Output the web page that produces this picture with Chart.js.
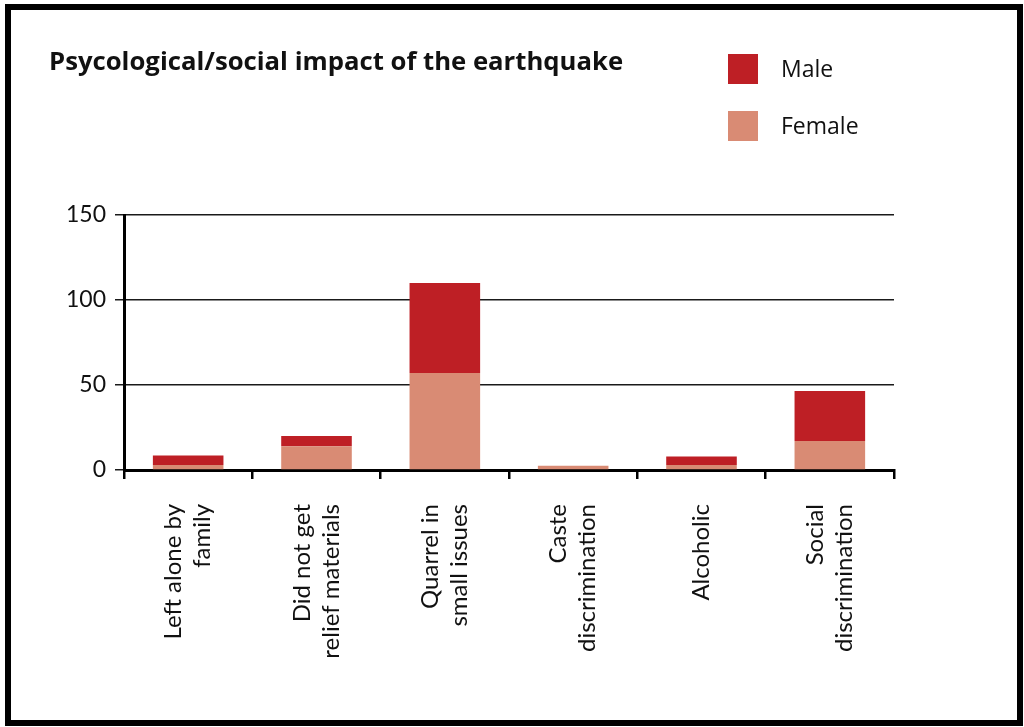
<!DOCTYPE html>
<html>
<head>
<meta charset="utf-8">
<script src="https://cdn.jsdelivr.net/npm/chart.js@4/dist/chart.umd.min.js"></script>
<style>
  html, body { margin: 0; padding: 0; background: #fff; }
  #wrap { position: relative; width: 1024px; height: 727px; overflow: hidden; }
  #frame {
    position: absolute; left: 5px; top: 4px; width: 1018px; height: 722px;
    box-sizing: border-box; border: 6px solid #000; pointer-events: none;
  }
  canvas { position: absolute; left: 0; top: 0; }
</style>
</head>
<body>
<div id="wrap">
  <canvas id="chart" width="1024" height="727"></canvas>
  <div id="frame"></div>
</div>
<script>
// Survey responses: psychological / social impact of the earthquake
const categories = [
  ['Left alone by', 'family'],
  ['Did not get', 'relief materials'],
  ['Quarrel in', 'small issues'],
  ['Caste', 'discrimination'],
  ['Alcoholic'],
  ['Social', 'discrimination']
];
const femaleValues = [3, 14, 57, 2.5, 3, 17];
const maleValues = [5.5, 6, 53, 0, 5, 29.5];
const yTicks = [0, 50, 100, 150];
const titleText = 'Psycological/social impact of the earthquake';

const MALE_COLOR = '#be1f25';
const FEMALE_COLOR = '#d98b74';

// Title and stacked legend drawn in the top band
const headerPlugin = {
  id: 'header',
  afterDraw(chart) {
    const ctx = chart.ctx;
    ctx.save();
    ctx.fillStyle = '#111';
    ctx.textBaseline = 'alphabetic';
    ctx.textAlign = 'left';
    ctx.font = 'bold 25.7px "Open Sans", sans-serif';
    ctx.fillText(titleText, 49, 70);

    const items = [chart.data.datasets[1], chart.data.datasets[0]];
    ctx.font = '23px "Open Sans", sans-serif';
    ctx.textBaseline = 'middle';
    items.forEach((ds, i) => {
      const y = 54 + i * 57;
      ctx.fillStyle = ds.backgroundColor;
      ctx.fillRect(728, y, 30, 30);
      ctx.fillStyle = '#111';
      ctx.fillText(ds.label, 781, y + 16);
    });
    ctx.restore();
  }
};

// Vertical category labels, each block of lines centred on its bar
const categoryLabelPlugin = {
  id: 'categoryLabels',
  afterDraw(chart) {
    const ctx = chart.ctx;
    const xScale = chart.scales.x;
    const top = xScale.top + 34;
    const lineHeight = 29;
    ctx.save();
    ctx.fillStyle = '#111';
    ctx.font = '24px Lato, sans-serif';
    ctx.textAlign = 'right';
    ctx.textBaseline = 'middle';
    chart.data.labels.forEach((label, i) => {
      const lines = Array.isArray(label) ? label : [label];
      const cx = xScale.getPixelForTick(i);
      ctx.save();
      ctx.translate(cx, top);
      ctx.rotate(-Math.PI / 2);
      lines.forEach((line, j) => {
        const offset = (j - (lines.length - 1) / 2) * lineHeight;
        ctx.fillText(line, 0, offset);
      });
      ctx.restore();
    });
    ctx.restore();
  }
};

new Chart(document.getElementById('chart'), {
  type: 'bar',
  data: {
    labels: categories,
    datasets: [
      { label: 'Female', data: femaleValues, backgroundColor: FEMALE_COLOR },
      { label: 'Male', data: maleValues, backgroundColor: MALE_COLOR }
    ]
  },
  options: {
    responsive: false,
    animation: false,
    layout: { padding: { top: 215, right: 130, left: 0, bottom: 0 } },
    plugins: {
      legend: { display: false },
      title: { display: false },
      tooltip: { enabled: false }
    },
    datasets: { bar: { barPercentage: 0.55, categoryPercentage: 1 } },
    scales: {
      x: {
        stacked: true,
        afterFit(scale) { scale.height = 257; },
        border: { display: true, color: '#000', width: 3 },
        grid: {
          offset: true,
          drawOnChartArea: false,
          drawTicks: true,
          tickLength: 9,
          color: '#000',
          lineWidth: 2.5
        },
        ticks: { display: false, autoSkip: false }
      },
      y: {
        stacked: true,
        min: 0,
        max: 150,
        afterFit(scale) { scale.width = 124; },
        afterBuildTicks(scale) { scale.ticks = yTicks.map(v => ({ value: v })); },
        border: { display: true, color: '#000', width: 3 },
        grid: {
          color: '#1a1a1a',
          lineWidth: 1.5,
          drawTicks: true,
          tickLength: 9
        },
        ticks: {
          padding: 9,
          color: '#111',
          font: { family: 'Lato, sans-serif', size: 23 }
        }
      }
    }
  },
  plugins: [headerPlugin, categoryLabelPlugin]
});
</script>
</body>
</html>
